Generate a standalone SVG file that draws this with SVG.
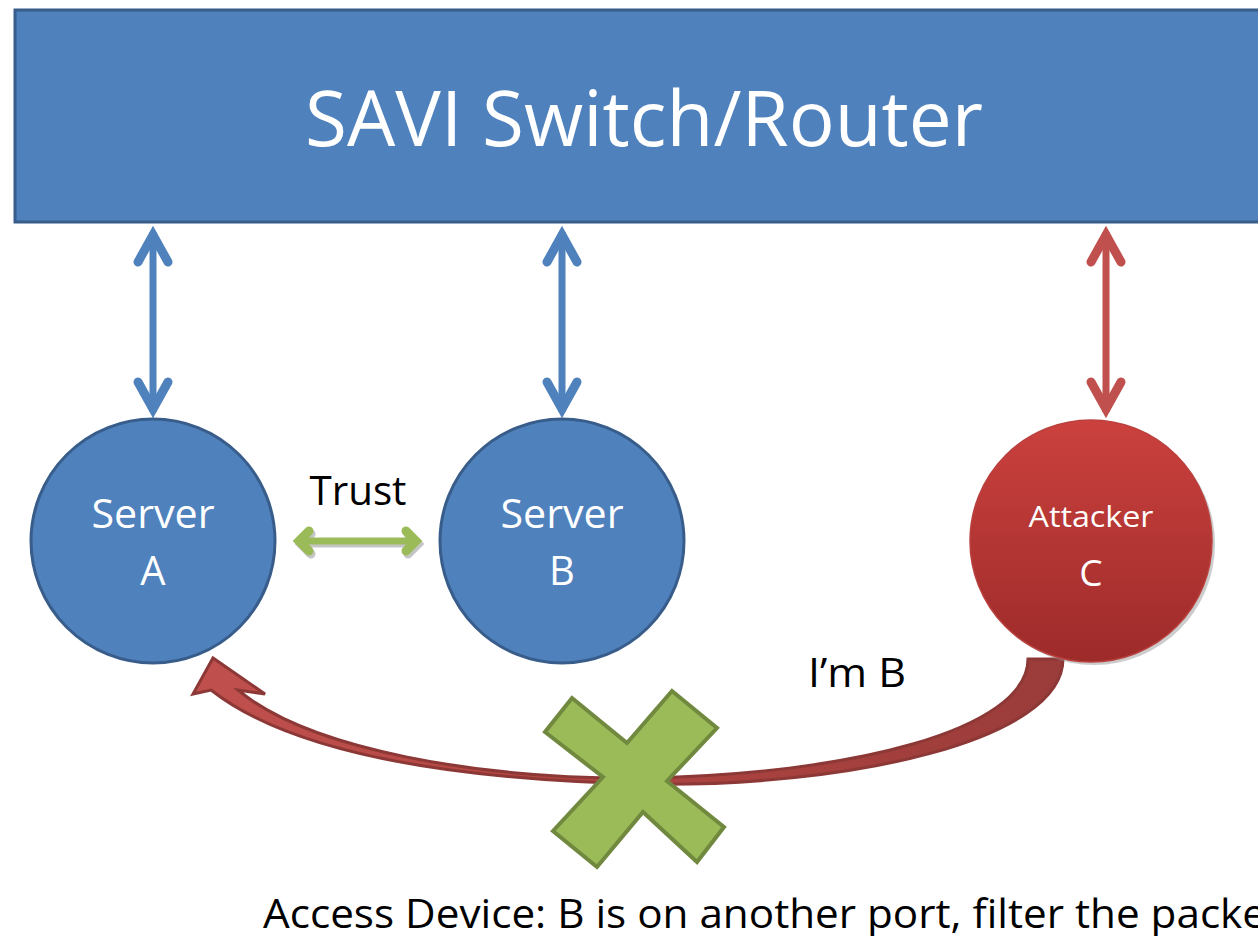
<svg xmlns="http://www.w3.org/2000/svg" width="1258" height="936" viewBox="0 0 1258 936">
<defs>
<style>
.t{font-family:"Open Sans","Liberation Sans",sans-serif;}
.w{fill:#FFFFFF;}
.k{fill:#000000;}
.blue{fill:#4F81BD;stroke:#385D8A;stroke-width:3;}
.ln{fill:none;stroke-width:7;}
.hd{fill:none;stroke-width:9;stroke-linecap:round;stroke-linejoin:miter;stroke-miterlimit:10;}
</style>
<linearGradient id="redG" x1="0" y1="0" x2="0" y2="1">
<stop offset="0" stop-color="#CB413E"/>
<stop offset="1" stop-color="#9D2B2A"/>
</linearGradient>
<linearGradient id="curveG" gradientUnits="userSpaceOnUse" x1="200" y1="0" x2="1070" y2="0">
<stop offset="0" stop-color="#C0504D"/>
<stop offset="0.5" stop-color="#AE4441"/>
<stop offset="1" stop-color="#9A3C3A"/>
</linearGradient>
</defs>
<g id="switch">
<rect x="15" y="10" width="1260" height="212" class="blue"/>
<text class="t w" x="644" y="146" font-size="77" text-anchor="middle" textLength="678" lengthAdjust="spacingAndGlyphs">SAVI Switch/Router</text>
</g>
<g id="connectors">
<g stroke="#4F81BD">
<line class="ln" x1="153" y1="232" x2="153" y2="412"/>
<polyline class="hd" points="138,262 153,235 168,262"/>
<polyline class="hd" points="138,382 153,409 168,382"/>
<line class="ln" x1="562" y1="232" x2="562" y2="412"/>
<polyline class="hd" points="547,262 562,235 577,262"/>
<polyline class="hd" points="547,382 562,409 577,382"/>
</g>
<g stroke="#C0504D">
<line class="ln" x1="1106" y1="232" x2="1106" y2="412"/>
<polyline class="hd" points="1091,262 1106,235 1121,262"/>
<polyline class="hd" points="1091,382 1106,409 1121,382"/>
</g>
<g id="trust-arrow">
<g stroke="#A0A0A0" opacity="0.6" transform="translate(2,3)">
<line x1="300" y1="541" x2="415" y2="541" stroke-width="7"/>
<polyline class="hd" points="309,531 299,541 309,551" stroke-width="8"/>
<polyline class="hd" points="406,531 416,541 406,551" stroke-width="8"/>
</g>
<g stroke="#9BBB59">
<line x1="300" y1="541" x2="415" y2="541" stroke-width="7"/>
<polyline class="hd" points="309,531 299,541 309,551" stroke-width="8"/>
<polyline class="hd" points="406,531 416,541 406,551" stroke-width="8"/>
</g>
</g>
<path id="spoof-arrow" d="M 1028 659 L 1063 659 C 1063 740 850 788 640 784 C 480 780 300 760 211 690 L 193 694 L 213 658 L 265 694 L 238 690 C 310 750 480 779 640 778 C 850 775 1028 730 1028 659 Z" fill="url(#curveG)" stroke="#8C3836" stroke-width="3" stroke-linejoin="miter"/>
</g>
<g id="server-a">
<circle cx="153" cy="541" r="122" class="blue"/>
<text class="t w" x="153" y="528" font-size="40" text-anchor="middle" textLength="123" lengthAdjust="spacingAndGlyphs">Server</text>
<text class="t w" x="153" y="585" font-size="40" text-anchor="middle">A</text>
</g>
<g id="server-b">
<circle cx="562" cy="541" r="122" class="blue"/>
<text class="t w" x="562" y="528" font-size="40" text-anchor="middle" textLength="123" lengthAdjust="spacingAndGlyphs">Server</text>
<text class="t w" x="562" y="585" font-size="40" text-anchor="middle">B</text>
</g>
<g id="attacker-c">
<circle cx="1094" cy="544" r="121" fill="#9A9A9A" opacity="0.5"/>
<circle cx="1091" cy="541" r="121" fill="url(#redG)" stroke="#B9403D" stroke-width="1.5"/>
<text class="t w" x="1091" y="527" font-size="29" text-anchor="middle" textLength="125" lengthAdjust="spacingAndGlyphs">Attacker</text>
<text class="t w" x="1091" y="586" font-size="37" text-anchor="middle">C</text>
</g>
<g id="trust-label">
<text class="t k" x="358" y="505" font-size="40" text-anchor="middle" textLength="97" lengthAdjust="spacingAndGlyphs">Trust</text>
</g>
<g id="im-b-label">
<text class="t k" x="857" y="687" font-size="40" text-anchor="middle" textLength="98" lengthAdjust="spacingAndGlyphs">I’m B</text>
</g>
<g id="block-x">
<polygon points="572,698 627,743 672,691 717,728 667,781 724,827 697,862 643,812 597,867 553,831 603,777 545,732" fill="#9BBB59" stroke="#71893F" stroke-width="4" stroke-linejoin="miter"/>
</g>
<g id="filter-label">
<text class="t k" x="263" y="928" font-size="40" textLength="1003" lengthAdjust="spacingAndGlyphs">Access Device: B is on another port, filter the packe</text>
</g>
</svg>
